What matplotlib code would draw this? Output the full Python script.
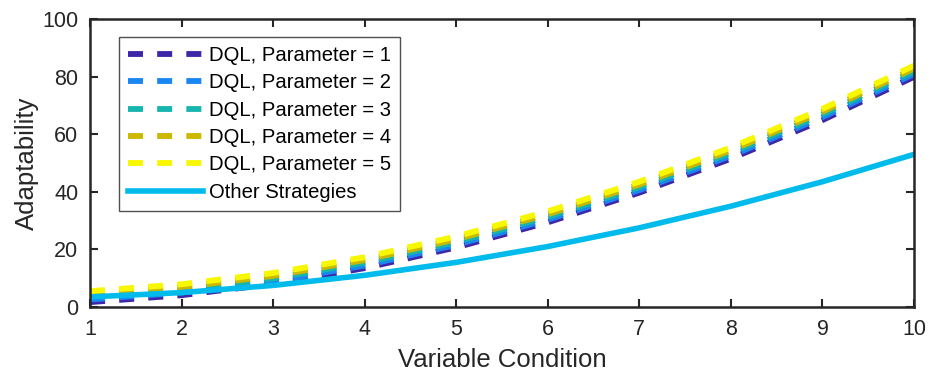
import numpy as np
import matplotlib
matplotlib.use("Agg")
import matplotlib.pyplot as plt

plt.rcParams['font.family'] = ['Liberation Sans', 'DejaVu Sans']
plt.rcParams['lines.scale_dashes'] = False

x = [1, 2, 3, 4, 5, 6, 7, 8, 9, 10]
dql_p1 = [1.7, 4.1, 8.0, 13.5, 20.7, 29.4, 39.7, 51.5, 64.9, 79.9]
dql_p2 = [2.6, 5.0, 8.9, 14.4, 21.6, 30.3, 40.6, 52.5, 65.9, 80.9]
dql_p3 = [3.6, 6.0, 9.9, 15.4, 22.6, 31.3, 41.6, 53.5, 66.9, 81.9]
dql_p4 = [4.5, 6.9, 10.8, 16.3, 23.5, 32.2, 42.5, 54.4, 67.8, 82.8]
dql_p5 = [5.5, 7.9, 11.8, 17.3, 24.5, 33.2, 43.5, 55.4, 68.8, 83.8]
other = [3.5, 5.0, 7.5, 11.0, 15.5, 21.0, 27.5, 35.0, 43.5, 53.0]

dql_series = [dql_p1, dql_p2, dql_p3, dql_p4, dql_p5]
dql_labels = ["DQL, Parameter = 1", "DQL, Parameter = 2", "DQL, Parameter = 3",
              "DQL, Parameter = 4", "DQL, Parameter = 5"]
dql_colors = ['#3e26a8', '#1a86f2', '#16b5ad', '#cbb800', '#f7f700']
other_color = '#00bbec'

fig = plt.figure(figsize=(9.34, 3.76), dpi=100)
ax = fig.add_axes([0.0964, 0.1835, 0.8822, 0.766])

for ys, lab, col in zip(dql_series, dql_labels, dql_colors):
    ax.plot(x, ys, color=col, lw=4.2, linestyle=(0, (10.8, 10.2)), label=lab)
ax.plot(x, other, color=other_color, lw=4.0, label="Other Strategies")

ax.set_xlim(1, 10)
ax.set_ylim(0, 100)
ax.set_xticks(range(1, 11))
ax.set_yticks(range(0, 101, 20))
ax.tick_params(direction='in', length=6, width=1.5, labelsize=15.5, colors='#262626',
               top=True, right=True, pad=8.5)
for lbl in ax.get_xticklabels() + ax.get_yticklabels():
    lbl.set_color('#262626')
for s in ax.spines.values():
    s.set_linewidth(1.8)
    s.set_color('#262626')

ax.set_xlabel("Variable Condition", fontsize=18.5, color='#262626', labelpad=6)
ax.set_ylabel("Adaptability", fontsize=18.5, color='#262626', labelpad=2.5)

leg = ax.legend(loc='upper left', bbox_to_anchor=(0.035, 0.9375), fontsize=14.6,
                handlelength=3.7, handletextpad=0.3, borderpad=0.45,
                labelspacing=0.41, frameon=True, fancybox=False, borderaxespad=0)
leg.get_frame().set_edgecolor('#262626')
leg.get_frame().set_linewidth(1.0)

fig.savefig("out.png", dpi=100)
